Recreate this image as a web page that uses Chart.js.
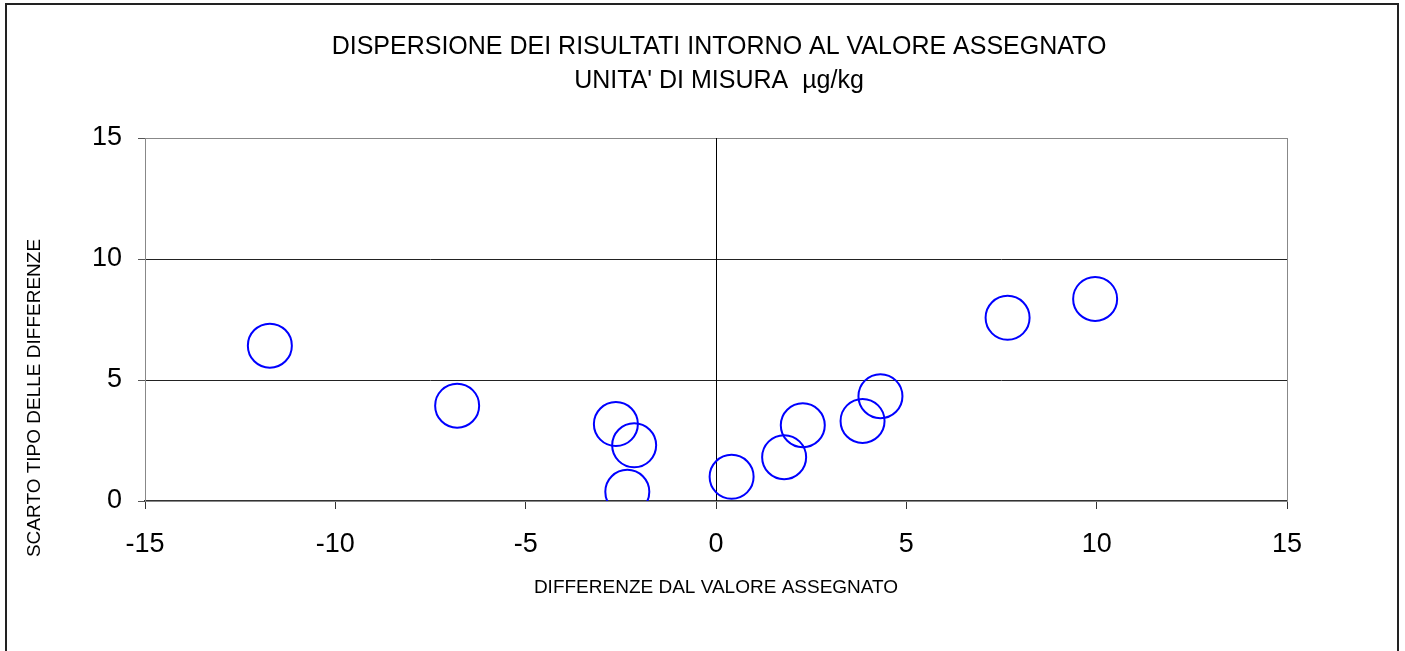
<!DOCTYPE html>
<html>
<head>
<meta charset="utf-8">
<script src="https://cdn.jsdelivr.net/npm/chart.js@4.4.1/dist/chart.umd.min.js"></script>
<style>
  body { margin: 0; background: #fff; }
  #wrap { position: relative; width: 1405px; height: 651px; }
</style>
</head>
<body>
<div id="wrap"><canvas id="grafico" width="1405" height="651"></canvas></div>
<script>
// Dati
const differenze = [-11.72, -6.80, -2.63, -2.15, -2.33, 0.41, 1.79, 2.28, 3.85, 4.32, 7.66, 9.96];
const scarti = [6.42, 3.94, 3.18, 2.30, 0.38, 1.00, 1.81, 3.13, 3.31, 4.33, 7.57, 8.35];
const ticksX = [-15, -10, -5, 0, 5, 10, 15];
const ticksY = [0, 5, 10, 15];
const titolo = ['DISPERSIONE DEI RISULTATI INTORNO AL VALORE ASSEGNATO', "UNITA' DI MISURA  \u00b5g/kg"];
const titoloX = 'DIFFERENZE DAL VALORE ASSEGNATO';
const titoloY = 'SCARTO TIPO DELLE DIFFERENZE';

const punti = differenze.map((x, i) => ({ x: x, y: scarti[i] }));
const font = 'Liberation Sans, Arial, sans-serif';

// Cornice esterna, titolo, bordo dell'area e titolo asse Y
const decorazioni = {
  id: 'decorazioni',
  beforeDraw(chart) {
    const ctx = chart.ctx;
    ctx.save();
    ctx.fillStyle = '#fff';
    ctx.fillRect(0, 0, chart.width, chart.height);
    ctx.strokeStyle = '#222';
    ctx.lineWidth = 2;
    ctx.strokeRect(6, 4, 1392, 660);
    // titolo su due righe
    ctx.fillStyle = '#000';
    ctx.font = '25px ' + font;
    ctx.textAlign = 'center';
    ctx.textBaseline = 'middle';
    titolo.forEach((riga, i) => ctx.fillText(riga, 719, 47 + i * 34));
    ctx.restore();
  },
  beforeDatasetsDraw(chart) {
    const { ctx, chartArea: a } = chart;
    ctx.save();
    ctx.strokeStyle = '#888';
    ctx.lineWidth = 1;
    ctx.strokeRect(Math.round(a.left) + 0.5, Math.round(a.top) + 0.5, Math.round(a.right - a.left), Math.round(a.bottom - a.top));
    // asse verticale a x = 0
    const x0 = Math.round(chart.scales.x.getPixelForValue(0)) + 0.5;
    ctx.strokeStyle = '#000';
    ctx.beginPath();
    ctx.moveTo(x0, a.top);
    ctx.lineTo(x0, a.bottom);
    ctx.stroke();
    // titolo asse Y
    ctx.translate(35, 398);
    ctx.rotate(-Math.PI / 2);
    ctx.fillStyle = '#000';
    ctx.font = '19px ' + font;
    ctx.textAlign = 'center';
    ctx.textBaseline = 'middle';
    ctx.fillText(titoloY, 0, 0);
    ctx.restore();
  }
};

new Chart(document.getElementById('grafico'), {
  type: 'scatter',
  data: {
    datasets: [{
      data: punti,
      pointRadius: 22,
      pointHoverRadius: 22,
      borderColor: '#0000ff',
      borderWidth: 2,
      backgroundColor: 'rgba(0,0,0,0)'
    }]
  },
  options: {
    responsive: false,
    animation: false,
    devicePixelRatio: 1,
    layout: { padding: { left: 0, right: 118, top: 138, bottom: 0 } },
    plugins: {
      legend: { display: false },
      tooltip: { enabled: false },
      title: { display: false }
    },
    scales: {
      x: {
        type: 'linear',
        min: -15,
        max: 15,
        afterBuildTicks: s => { s.ticks = ticksX.map(v => ({ value: v })); },
        afterFit: s => { s.height = 150; },
        grid: {
          drawOnChartArea: false,
          drawTicks: true,
          tickLength: 8,
          tickColor: '#333'
        },
        border: { display: true, color: '#333', width: 1.5 },
        ticks: { color: '#000', padding: 19, maxRotation: 0, font: { family: font, size: 27 } },
        title: {
          display: true,
          text: titoloX,
          color: '#000',
          font: { family: font, size: 19 },
          padding: { top: 0, bottom: 52 }
        }
      },
      y: {
        type: 'linear',
        min: 0,
        max: 15,
        afterBuildTicks: s => { s.ticks = ticksY.map(v => ({ value: v })); },
        afterFit: s => { s.width = 145; },
        grid: {
          color: ctx => (ctx.tick && ctx.tick.value > 0 && ctx.tick.value < 15) ? '#222' : 'rgba(0,0,0,0)',
          drawTicks: true,
          tickLength: 7,
          tickColor: '#555'
        },
        border: { display: false },
        ticks: { color: '#000', padding: 16, font: { family: font, size: 27 } }
      }
    }
  },
  plugins: [decorazioni]
});
</script>
</body>
</html>
